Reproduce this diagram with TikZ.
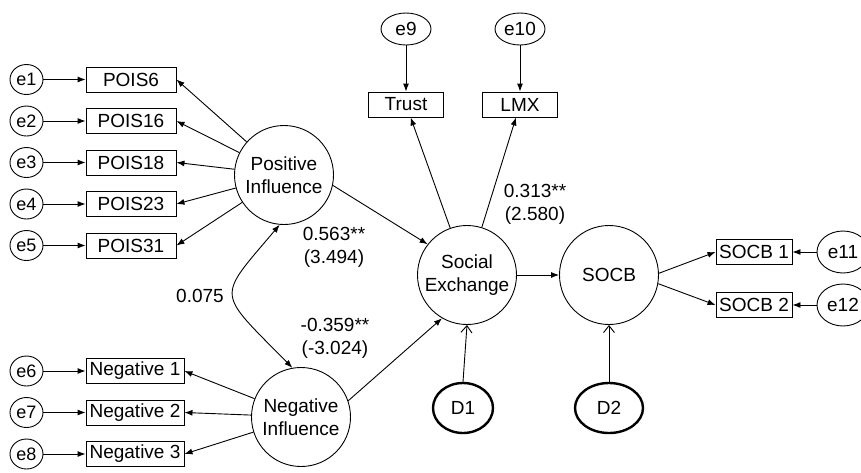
\documentclass[tikz,border=0pt]{standalone}
\usepackage{fontspec}
\setmainfont{Liberation Sans}
\usetikzlibrary{shapes.geometric,arrows.meta}
\begin{document}
\begin{tikzpicture}[x=1pt,y=-1pt,
  font=\fontsize{19}{23}\selectfont,
  line width=0.9pt,
  every node/.style={inner sep=0pt},
  lat/.style={circle,draw,minimum size=99pt,align=center},
  obs/.style={rectangle,draw,minimum height=25pt},
  pois/.style={obs,minimum width=90pt},
  neg/.style={obs,minimum width=98pt},
  mid/.style={obs,minimum width=75pt},
  socbbox/.style={obs,minimum width=76pt},
  err/.style={ellipse,draw,minimum width=33pt,minimum height=30pt,font=\fontsize{18}{21}\selectfont},
  errtop/.style={ellipse,draw,minimum width=50pt,minimum height=32pt},
  errright/.style={ellipse,draw,minimum width=52pt,minimum height=42pt},
  dist/.style={ellipse,draw,line width=2.4pt,minimum height=50pt},
  arr/.style={-{Latex[length=8pt,width=6pt]}},
  darr/.style={{Latex[length=8pt,width=6pt]}-{Latex[length=8pt,width=6pt]}},
  oarr/.style={-{Straight Barb[length=7pt,width=11pt]}},
  lab/.style={align=center}
]
\useasboundingbox (0,0) rectangle (861,472);
\fill[white] (0,0) rectangle (861,472);

% latent variables
\node[lat] (PI) at (284,175) {Positive\\Influence};
\node[lat] (NI) at (301,417) {Negative\\Influence};
\node[lat] (SE) at (467,275) {Social\\Exchange};
\node[lat] (SOCB) at (609,275) {SOCB};

% positive indicators
\node[pois] (P6)  at (131,79.5)  {POIS6};
\node[pois] (P16) at (131,121)   {POIS16};
\node[pois] (P18) at (131,162.5) {POIS18};
\node[pois] (P23) at (131,204)   {POIS23};
\node[pois] (P31) at (131,245.5) {POIS31};
\node[err] (e1) at (26.5,79.5)  {e1};
\node[err] (e2) at (26.5,121)   {e2};
\node[err] (e3) at (26.5,162.5) {e3};
\node[err] (e4) at (26.5,204)   {e4};
\node[err] (e5) at (26.5,245.5) {e5};

% negative indicators
\node[neg] (N1) at (135,371) {Negative 1};
\node[neg] (N2) at (135,412.5) {Negative 2};
\node[neg] (N3) at (135,454) {Negative 3};
\node[err] (e6) at (26.5,371)   {e6};
\node[err] (e7) at (26.5,412.5) {e7};
\node[err] (e8) at (26.5,454)   {e8};

% social exchange indicators
\node[mid] (Trust) at (406,104.5) {Trust};
\node[mid] (LMX) at (520,104.5) {LMX};
\node[errtop] (e9) at (406,29) {e9};
\node[errtop] (e10) at (520,29) {e10};

% SOCB indicators
\node[socbbox] (S1) at (754,252) {SOCB 1};
\node[socbbox] (S2) at (754,305) {SOCB 2};
\node[errright] (e11) at (843,252) {e11};
\node[errright] (e12) at (843,305) {e12};

% disturbances
\node[dist,minimum width=60pt] (D1) at (463,408) {D1};
\node[dist,minimum width=68pt] (D2) at (609,408) {D2};

% error arrows
\foreach \e/\b in {e1/P6,e2/P16,e3/P18,e4/P23,e5/P31,e6/N1,e7/N2,e8/N3}
  \draw[arr] (\e) -- (\b);
\draw[arr] (e9) -- (Trust);
\draw[arr] (e10) -- (LMX);
\draw[arr] (e11) -- (S1);
\draw[arr] (e12) -- (S2);

% loadings
\foreach \b in {P6,P16,P18,P23,P31}
  \draw[arr] (PI) -- (\b.east);
\foreach \b in {N1,N2,N3}
  \draw[arr] (NI) -- (\b.east);
\draw[arr] (SE) -- (Trust);
\draw[arr] (SE) -- (LMX);
\draw[arr] (SOCB.2) -- (S1.west);
\draw[arr] (SOCB.-10) -- (S2.west);

% structural paths
\draw[arr] (PI.-12) -- (SE.142);
\draw[arr] (NI.19) -- (SE.240);
\draw[arr] (SE) -- (SOCB);
\draw[oarr] (D1.north) -- (SE.south);
\draw[oarr] (D2.north) -- (SOCB.south);

% covariance
\draw[darr] (PI.265) .. controls (216,300) and (216,290) .. (NI.100);

% labels
\node[lab] (l1) at (334,247) {0.563**\\(3.494)};
\node[lab] (l2) at (335,338) {-0.359**\\(-3.024)};
\node[lab] (l3) at (200,296) {0.075};
\node[lab] (l4) at (535,204) {0.313**\\(2.580)};
\end{tikzpicture}
\end{document}
